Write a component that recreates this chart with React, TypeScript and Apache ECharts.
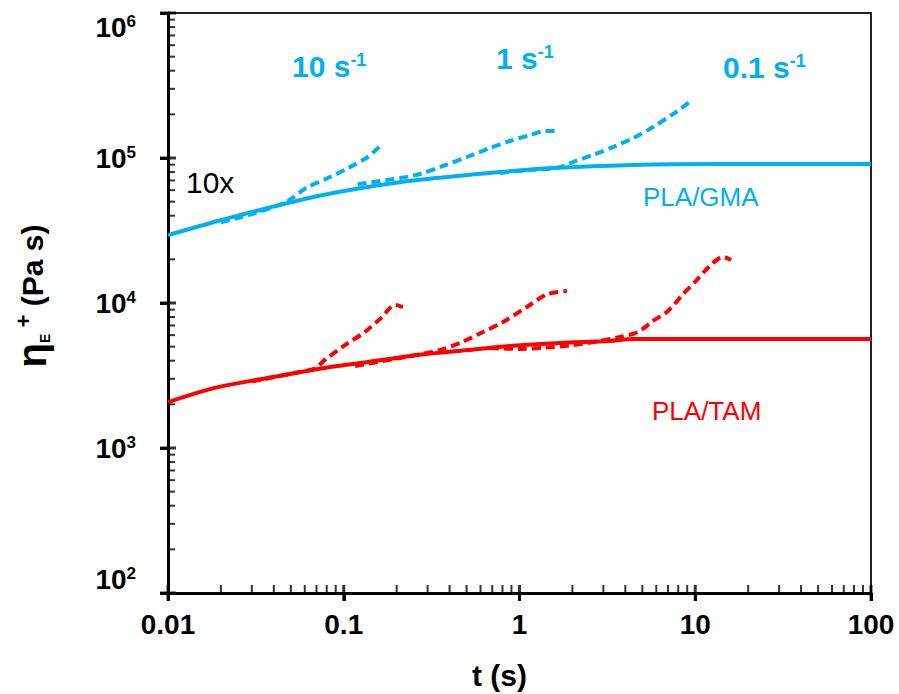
import React, { useEffect, useRef } from "react";
import * as echarts from "echarts";

// ---- data (t in s, eta in Pa s) ----
const gmaLinear: [number, number][] = [
  [0.01, 29400], [0.0192, 36800], [0.037, 45200], [0.0715, 54700], [0.137, 63100],
  [0.264, 70500], [0.775, 80000], [1.55, 85300], [4.43, 89600], [13.8, 90900], [100, 90900],
];
const gmaRate10: [number, number][] = [
  [0.02, 36000], [0.03, 41000], [0.045, 48500], [0.05, 52000], [0.061, 62100],
  [0.0813, 72800], [0.106, 85300], [0.137, 101600], [0.163, 123000],
];
const gmaRate1: [number, number][] = [
  [0.12, 66000], [0.209, 72800], [0.272, 77600], [0.367, 88100], [0.503, 101600],
  [0.679, 117200], [0.883, 131000], [1.15, 144000], [1.4, 153600], [1.63, 153600],
];
const gmaRate01: [number, number][] = [
  [0.775, 78800], [1.15, 82700], [1.63, 85300], [2.01, 93800], [2.62, 105000],
  [3.4, 119000], [4.43, 137000], [5.75, 163700], [7.47, 201000], [9.46, 247000],
];
const tamLinear: [number, number][] = [
  [0.01, 2075], [0.0192, 2630], [0.037, 3040], [0.0715, 3510], [0.137, 3920],
  [0.264, 4380], [0.509, 4740], [0.883, 5050], [1.7, 5300], [3.27, 5470],
  [4.43, 5650], [100, 5650],
];
const tamRate10: [number, number][] = [
  [0.03, 2880], [0.0494, 3240], [0.0686, 3540], [0.078, 4050], [0.1016, 5130],
  [0.132, 6310], [0.163, 7880], [0.196, 9690], [0.217, 9380],
];
const tamRate1: [number, number][] = [
  [0.116, 3680], [0.209, 4180], [0.353, 4740], [0.471, 5380], [0.604, 6210],
  [0.806, 7390], [1.1, 9380], [1.44, 11500], [1.86, 12100],
];
const tamRate01: [number, number][] = [
  [0.679, 4890], [1.01, 4820], [1.4, 4920], [1.94, 5100], [2.69, 5400],
  [3.73, 5830], [4.72, 6310], [5.75, 7520], [7.0, 8810], [8.52, 11500],
  [10.2, 14400], [12.1, 18000], [14.4, 20800], [16.0, 19800],
];

// ---- axes ----
const xMin = 0.01, xMax = 100, yMin = 100, yMax = 1e6;
const xTickLabels = ["0.01", "0.1", "1", "10", "100"];
const xDecades = [0.01, 0.1, 1, 10, 100];
const yDecades = [100, 1000, 10000, 100000, 1000000];
const minorSteps = [2, 3, 4, 5, 6, 7, 8, 9];

const BLUE = "#00B0F0";
const RED = "#FF0000";
const FONT = "'Liberation Sans', Arial, sans-serif";

const minorOf = (decades: number[]) =>
  decades.slice(0, -1).flatMap((d) => minorSteps.map((k) => d * k));

export default function App() {
  const ref = useRef<HTMLDivElement>(null);
  useEffect(() => {
    if (!ref.current) return;
    const chart = echarts.init(ref.current, null, { renderer: "svg" });
    const solid = (data: [number, number][], color: string) => ({
      type: "line",
      data,
      showSymbol: false,
      smooth: 0.3,
      lineStyle: { color, width: 4 },
    });
    const dashed = (data: [number, number][], color: string) => ({
      type: "line",
      data,
      showSymbol: false,
      smooth: 0.3,
      lineStyle: { color, width: 4, type: [9, 5] },
    });
    const tickSeries = (data: number[][], size: number[], offset: number[]) => ({
      type: "scatter",
      data,
      symbol: "rect",
      symbolSize: size,
      symbolOffset: offset,
      itemStyle: { color: "#000" },
      clip: false,
    });
    const rich = (color: string) => ({
      a: { fontFamily: FONT, fontSize: 30, fontWeight: "bold", fill: color },
      s: { fontFamily: FONT, fontSize: 18, fontWeight: "bold", fill: color, verticalAlign: "top" },
    });
    const frameAxis = { show: true, lineStyle: { color: "#222", width: 2 } };
    chart.setOption({
      animation: false,
      grid: { left: 168, right: 28, top: 13, bottom: 101 },
      xAxis: [
        {
          type: "log", logBase: 10, min: xMin, max: xMax,
          axisLine: { lineStyle: { color: "#000", width: 3 } },
          axisTick: { show: true, length: 8, lineStyle: { color: "#000", width: 3 } },
          splitLine: { show: false },
          axisLabel: {
            margin: 17,
            fontFamily: FONT, fontSize: 28, fontWeight: "bold", color: "#000",
            formatter: (v: number) => xTickLabels[Math.round(Math.log10(v)) + 2],
          },
        },
        {
          type: "log", logBase: 10, min: xMin, max: xMax, position: "top",
          axisLine: frameAxis, axisTick: { show: false }, axisLabel: { show: false },
          splitLine: { show: false },
        },
      ],
      yAxis: [
        {
          type: "log", logBase: 10, min: yMin, max: yMax,
          axisLine: { lineStyle: { color: "#000", width: 3 } },
          axisTick: { show: true, length: 8, lineStyle: { color: "#000", width: 3 } },
          splitLine: { show: false },
          axisLabel: {
            margin: 32,
            verticalAlignMaxLabel: "top",
            verticalAlignMinLabel: "bottom",
            formatter: (v: number) => `{b|10}{s|${Math.round(Math.log10(v))}}`,
            rich: {
              b: { fontFamily: FONT, fontSize: 28, fontWeight: "bold", color: "#000" },
              s: { fontFamily: FONT, fontSize: 17, fontWeight: "bold", color: "#000", verticalAlign: "top" },
            },
          },
        },
        {
          type: "log", logBase: 10, min: yMin, max: yMax, position: "right",
          axisLine: frameAxis, axisTick: { show: false }, axisLabel: { show: false },
          splitLine: { show: false },
        },
      ],
      series: [
        solid(gmaLinear, BLUE),
        dashed(gmaRate10, BLUE),
        dashed(gmaRate1, BLUE),
        dashed(gmaRate01, BLUE),
        solid(tamLinear, RED),
        dashed(tamRate10, RED),
        dashed(tamRate1, RED),
        dashed(tamRate01, RED),
        tickSeries(xDecades.map((v) => [v, yMin]), [3, 16], [0, 0]),
        tickSeries(minorOf(xDecades).map((v) => [v, yMin]), [2, 8], [0, -4]),
        tickSeries(yDecades.map((v) => [xMin, v]), [16, 3], [0, 0]),
        tickSeries(minorOf(yDecades).map((v) => [xMin, v]), [7, 2], [3.5, 0]),
      ],
      graphic: [
        { type: "text", x: 292, y: 66, style: { text: "{a|10 s}{s|-1}", verticalAlign: "middle", rich: rich(BLUE) } },
        { type: "text", x: 496, y: 58, style: { text: "{a|1 s}{s|-1}", verticalAlign: "middle", rich: rich(BLUE) } },
        { type: "text", x: 723, y: 67, style: { text: "{a|0.1 s}{s|-1}", verticalAlign: "middle", rich: rich(BLUE) } },
        {
          type: "text", x: 186, y: 182,
          style: { text: "10x", font: `30px ${FONT}`, fill: "#000", verticalAlign: "middle" },
        },
        {
          type: "text", x: 643, y: 197,
          style: { text: "PLA/GMA", font: `26px ${FONT}`, fill: BLUE, verticalAlign: "middle" },
        },
        {
          type: "text", x: 652, y: 411,
          style: { text: "PLA/TAM", font: `26px ${FONT}`, fill: RED, verticalAlign: "middle" },
        },
        {
          type: "text", x: 472, y: 675,
          style: { text: "t (s)", font: `bold 30px ${FONT}`, fill: "#000", verticalAlign: "middle" },
        },
        {
          type: "text", x: 32, y: 296, rotation: Math.PI / 2,
          style: {
            text: "{e|η}{sub|E}{sup| +}{r| (Pa s)}", align: "center", verticalAlign: "middle",
            rich: {
              e: { fontFamily: FONT, fontSize: 40, fontWeight: "bold", fill: "#000" },
              sub: { fontFamily: FONT, fontSize: 14, fontWeight: "bold", fill: "#000", verticalAlign: "bottom" },
              sup: { fontFamily: FONT, fontSize: 22, fontWeight: "bold", fill: "#000", verticalAlign: "top" },
              r: { fontFamily: FONT, fontSize: 30, fontWeight: "bold", fill: "#000" },
            },
          },
        },
      ],
    });
    return () => chart.dispose();
  }, []);
  return (
    <div
      ref={ref}
      style={{ position: "fixed", left: 0, top: 0, width: 899, height: 694, background: "#fff" }}
    />
  );
}
